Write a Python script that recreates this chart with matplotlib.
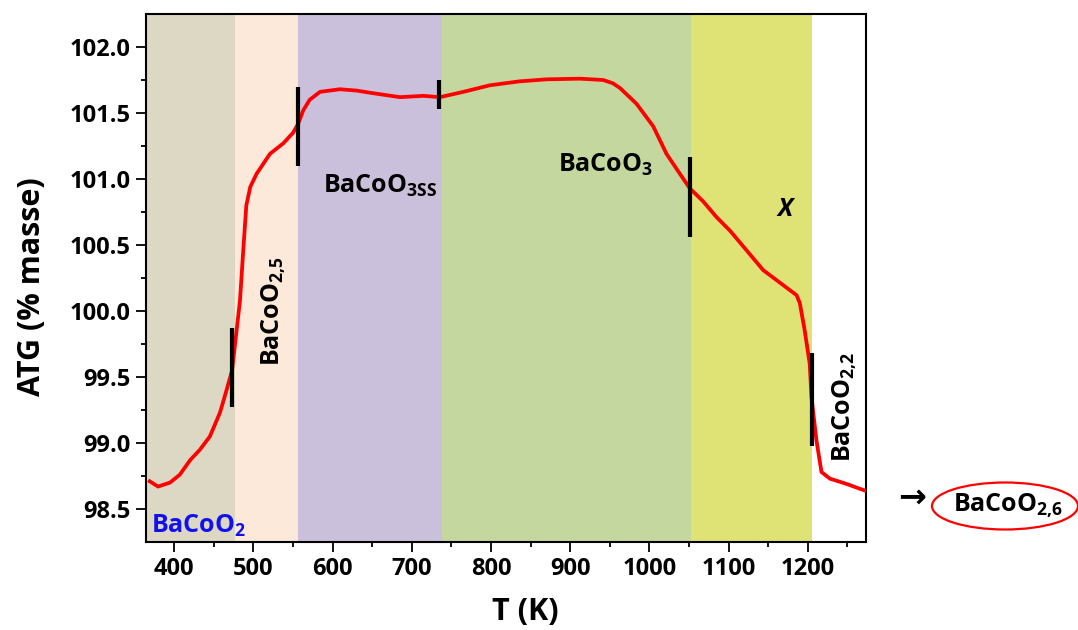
import matplotlib
matplotlib.use('Agg')
import matplotlib.pyplot as plt
from matplotlib.patches import Ellipse

# courbe ATG
temp = [369, 379.5, 394.6, 407, 420, 432.5, 445, 457.7, 466, 473, 483, 487,
        491, 496, 504, 520.8, 537.6, 550, 556.6, 562.9, 571, 584, 609, 630, 651,
        685, 714.5, 735.5, 765, 798.6, 836.5, 870, 912, 941.7, 954, 962.8, 983.8,
        1004.8, 1021.7, 1038.5, 1051, 1068, 1085, 1101.6, 1122.7, 1143.7, 1185.9,
        1190, 1196, 1202.5, 1204.7, 1211, 1217.4, 1228, 1249, 1272]
atg = [98.71, 98.67, 98.70, 98.76, 98.87, 98.95, 99.05, 99.23, 99.40, 99.55,
       100.08, 100.45, 100.80, 100.94, 101.04, 101.19, 101.27, 101.35, 101.42,
       101.52, 101.60, 101.66, 101.68, 101.67, 101.65, 101.62, 101.63, 101.62,
       101.66, 101.71, 101.74, 101.755, 101.76, 101.75, 101.725, 101.69, 101.57,
       101.40, 101.19, 101.04, 100.93, 100.83, 100.71, 100.61, 100.46, 100.31,
       100.12, 100.06, 99.86, 99.60, 99.35, 99.02, 98.78, 98.73, 98.69, 98.64]

# zones de phases
span_edges = [360, 476.6, 556.6, 737.6, 1053, 1206]
span_colors = ['#DDD8C4', '#FCE9DA', '#CBC0DB', '#C4D79F', '#DFE275']

# traits verticaux (limites)
mark_t = [473, 556.6, 734, 1051, 1206]
mark_lo = [99.27, 101.10, 101.53, 100.56, 98.98]
mark_hi = [99.87, 101.70, 101.75, 101.17, 99.68]

plt.rcParams['font.family'] = ['Open Sans', 'DejaVu Sans']
plt.rcParams['font.weight'] = 'bold'
plt.rcParams['mathtext.fontset'] = 'custom'
plt.rcParams['mathtext.rm'] = 'Open Sans:bold'
plt.rcParams['mathtext.it'] = 'Open Sans:italic:bold'
plt.rcParams['mathtext.bf'] = 'Open Sans:bold'

fig = plt.figure(figsize=(10.78, 6.30), dpi=100)
ax = fig.add_axes([146 / 1078, 1 - 542 / 630, 720 / 1078, 528 / 630])

for i, c in enumerate(span_colors):
    ax.axvspan(span_edges[i], span_edges[i + 1], color=c, lw=0, zorder=0)

ax.plot(temp, atg, color='#FF0000', lw=2.7, zorder=3)
ax.vlines(mark_t, mark_lo, mark_hi, colors='black', lw=3, zorder=4)

ax.set_xlim(364.3, 1273.6)
ax.set_ylim(98.25, 102.25)
ax.set_xticks(range(400, 1201, 100))
ax.set_xticks(range(450, 1251, 100), minor=True)
ax.set_yticks([98.5 + 0.5 * i for i in range(8)])
ax.set_yticks([98.75 + 0.5 * i for i in range(7)], minor=True)
ax.set_yticklabels([f'{98.5 + 0.5 * i:.1f}' for i in range(8)])
ax.tick_params(which='major', length=7, width=1.3, labelsize=17, pad=4)
ax.tick_params(which='minor', length=3.5, width=1.3)
for s in ax.spines.values():
    s.set_linewidth(1.5)

# annotations
ax.text(371, 98.316, r'BaCoO$_{\mathrm{2}}$', color='#1010F0', fontsize=18,
        ha='left', va='baseline')
ax.text(525.9, 100.0, r'BaCoO$_{\mathrm{2{,}5}}$', fontsize=18, rotation=90,
        ha='center', va='center')
ax.text(588, 100.894, r'BaCoO$_{\mathrm{3SS}}$', fontsize=18,
        ha='left', va='baseline')
ax.text(885, 101.055, r'BaCoO$_{\mathrm{3}}$', fontsize=18,
        ha='left', va='baseline')
ax.text(1162, 100.72, 'X', fontsize=18, style='italic',
        ha='left', va='baseline')
ax.text(1246.8, 99.27, r'BaCoO$_{\mathrm{2{,}2}}$', fontsize=18, rotation=90,
        ha='center', va='center')

fig.text(525 / 1078, 1 - 612 / 630, 'T (K)', fontsize=22,
         ha='center', va='center')
fig.text(32 / 1078, 1 - 287 / 630, 'ATG (% masse)', fontsize=22,
         rotation=90, ha='center', va='center')

# produit final
fig.text(912 / 1078, 1 - 497 / 630, '\u2192', fontsize=24, family='DejaVu Sans',
         ha='center', va='center')
fig.add_artist(Ellipse((1005 / 1078, 1 - 506 / 630), 146 / 1078, 47 / 630,
                       transform=fig.transFigure, fill=False,
                       ec='#FF0000', lw=1.6))
fig.text(953 / 1078, 1 - 512 / 630, r'BaCoO$_{\mathrm{2{,}6}}$', fontsize=18,
         ha='left', va='baseline')

fig.savefig('out.png', dpi=100)
